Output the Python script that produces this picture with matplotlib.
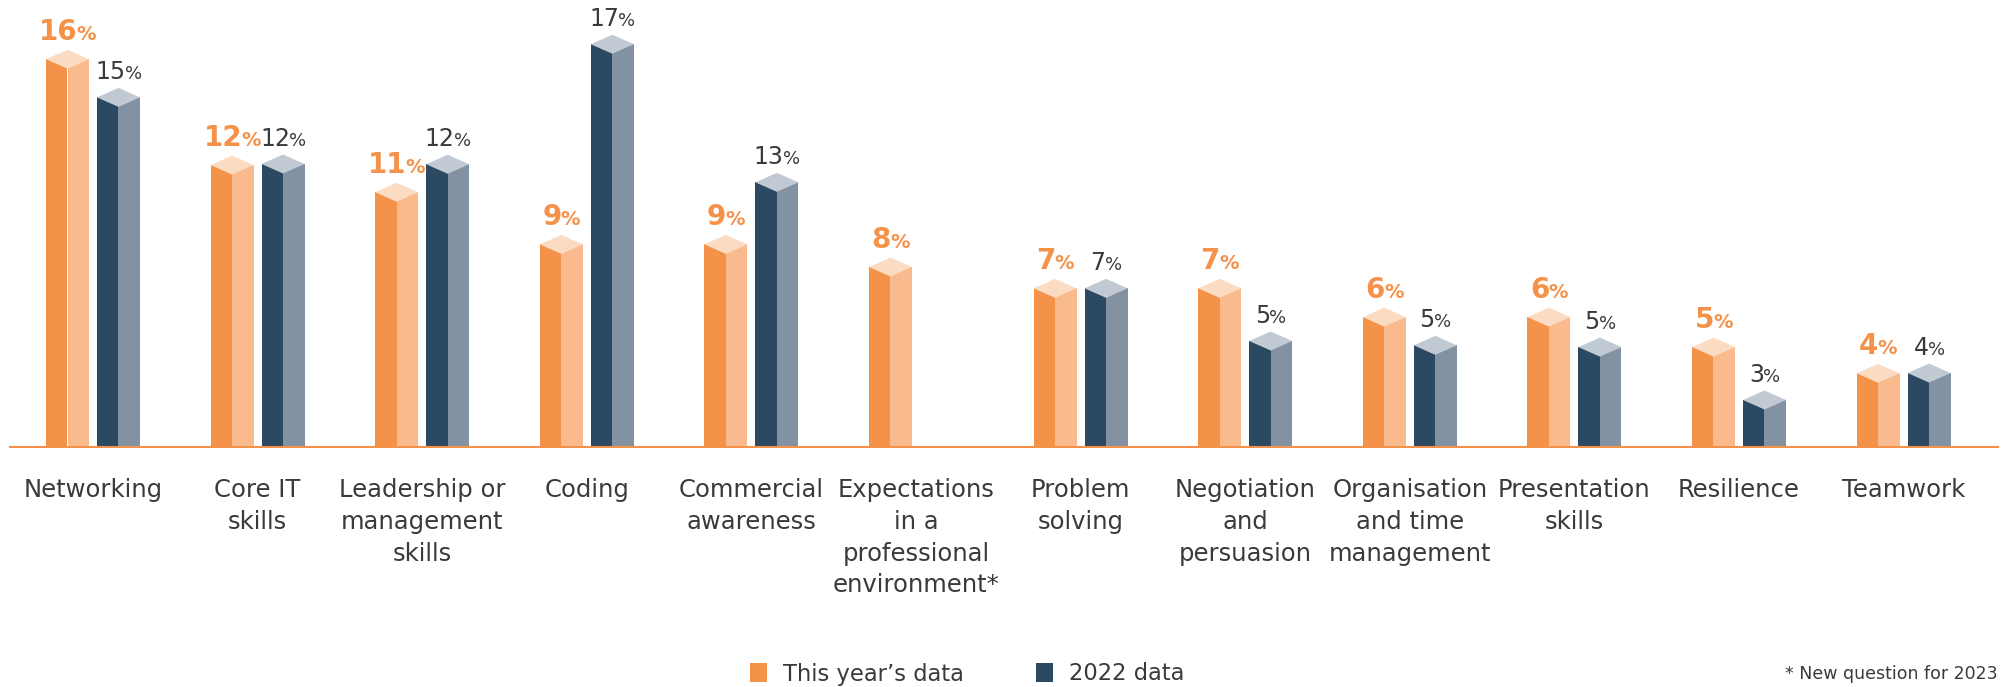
import numpy as np
import matplotlib
matplotlib.use("Agg")
import matplotlib.pyplot as plt
from matplotlib.offsetbox import TextArea, HPacker, AnnotationBbox
from matplotlib.patches import Polygon, Patch

# ---------------- data ----------------
categories = [
    "Networking",
    "Core IT\nskills",
    "Leadership or\nmanagement\nskills",
    "Coding",
    "Commercial\nawareness",
    "Expectations\nin a\nprofessional\nenvironment*",
    "Problem\nsolving",
    "Negotiation\nand\npersuasion",
    "Organisation\nand time\nmanagement",
    "Presentation\nskills",
    "Resilience",
    "Teamwork",
]
# bar heights as drawn (%)
this_year = [16.4, 12.24, 11.17, 9.12, 9.12, 8.23, 7.39, 7.39, 6.26, 6.26, 5.08, 4.05]
data_2022 = [14.9, 12.28, 12.27, 16.99, 11.56, np.nan, 7.39, 5.32, 5.15, 5.08, 3.0, 4.06]
# printed value labels (%)
this_year_labels = [16, 12, 11, 9, 9, 8, 7, 7, 6, 6, 5, 4]
labels_2022 = [15, 12, 12, 17, 13, None, 7, 5, 5, 5, 3, 4]
legend_labels = ["This year\u2019s data", "2022 data"]
footnote = "* New question for 2023"

# ---------------- style ----------------
OR_DARK, OR_LIGHT, OR_TOP = "#F5924A", "#F9BB8E", "#FBDCC3"
NV_DARK, NV_LIGHT, NV_TOP = "#2C4963", "#8292A2", "#C1CAD3"
TXT = "#3a3a3a"

W, H = 2006, 687
fig = plt.figure(figsize=(W / 100, H / 100), dpi=100)
base_px = 447
ax = fig.add_axes([10 / W, (H - base_px) / H, 1988 / W, base_px / H])

px_per_unit = 25.43
ymin = 1.152
ax.set_ylim(ymin, ymin + base_px / px_per_unit)
x0px, xunit = 93.0, 164.6
ax.set_xlim((10 - x0px) / xunit, (1998 - x0px) / xunit)

d = 9.5 / px_per_unit          # half-height of top rhombus in data units
bw = 43 / xunit                # bar width
off = 25.5 / xunit             # offset from group centre

x = np.arange(len(categories))


def bar3d(xc, v, cl, cr, ct):
    ax.bar(xc - bw / 4, v, width=bw / 2, color=cl, linewidth=0, zorder=2)
    ax.bar(xc + bw / 4, v, width=bw / 2, color=cr, linewidth=0, zorder=2)
    ax.add_patch(Polygon([(xc - bw / 2, v), (xc, v + d), (xc + bw / 2, v), (xc, v - d)],
                         closed=True, facecolor=ct, edgecolor="none", zorder=3))


def value_label(xc, v, num, color, weight, s1, s2):
    t1 = TextArea(str(num), textprops=dict(color=color, fontsize=s1, fontweight=weight))
    t2 = TextArea("%", textprops=dict(color=color, fontsize=s2, fontweight=weight))
    box = HPacker(children=[t1, t2], align="baseline", pad=0, sep=-0.5)
    ab = AnnotationBbox(box, (xc, v), xybox=(0, 9.5), xycoords="data",
                        boxcoords="offset points", box_alignment=(0.5, 0),
                        frameon=False, pad=0, annotation_clip=False)
    ax.add_artist(ab)


for i in range(len(categories)):
    v1 = this_year[i]
    bar3d(x[i] - off, v1, OR_DARK, OR_LIGHT, OR_TOP)
    value_label(x[i] - off, v1, this_year_labels[i], OR_DARK, "bold", 20, 14)
    v2 = data_2022[i]
    if not np.isnan(v2):
        bar3d(x[i] + off, v2, NV_DARK, NV_LIGHT, NV_TOP)
        value_label(x[i] + off, v2, labels_2022[i], TXT, "normal", 17, 13)

# axes styling
for s in ["top", "right", "left"]:
    ax.spines[s].set_visible(False)
ax.spines["bottom"].set_color(OR_DARK)
ax.spines["bottom"].set_linewidth(1.5)
ax.set_yticks([])
ax.set_xticks(x)
ax.set_xticklabels(categories, fontsize=17.5, color=TXT, linespacing=1.42)
ax.tick_params(axis="x", length=0, pad=22)

# legend
handles = [Patch(facecolor=OR_DARK, edgecolor="none"), Patch(facecolor=NV_DARK, edgecolor="none")]
fig.legend(handles, legend_labels, loc="center", bbox_to_anchor=(967.5 / W, 13 / H),
           ncol=2, frameon=False, fontsize=16.3, labelcolor=TXT,
           handlelength=0.75, handleheight=0.9, handletextpad=0.7, columnspacing=3.2,
           borderpad=0, borderaxespad=0)

fig.text(1998 / W, 13 / H, footnote, ha="right", va="center", fontsize=12.5, color=TXT)

fig.savefig("out.png", dpi=100)
